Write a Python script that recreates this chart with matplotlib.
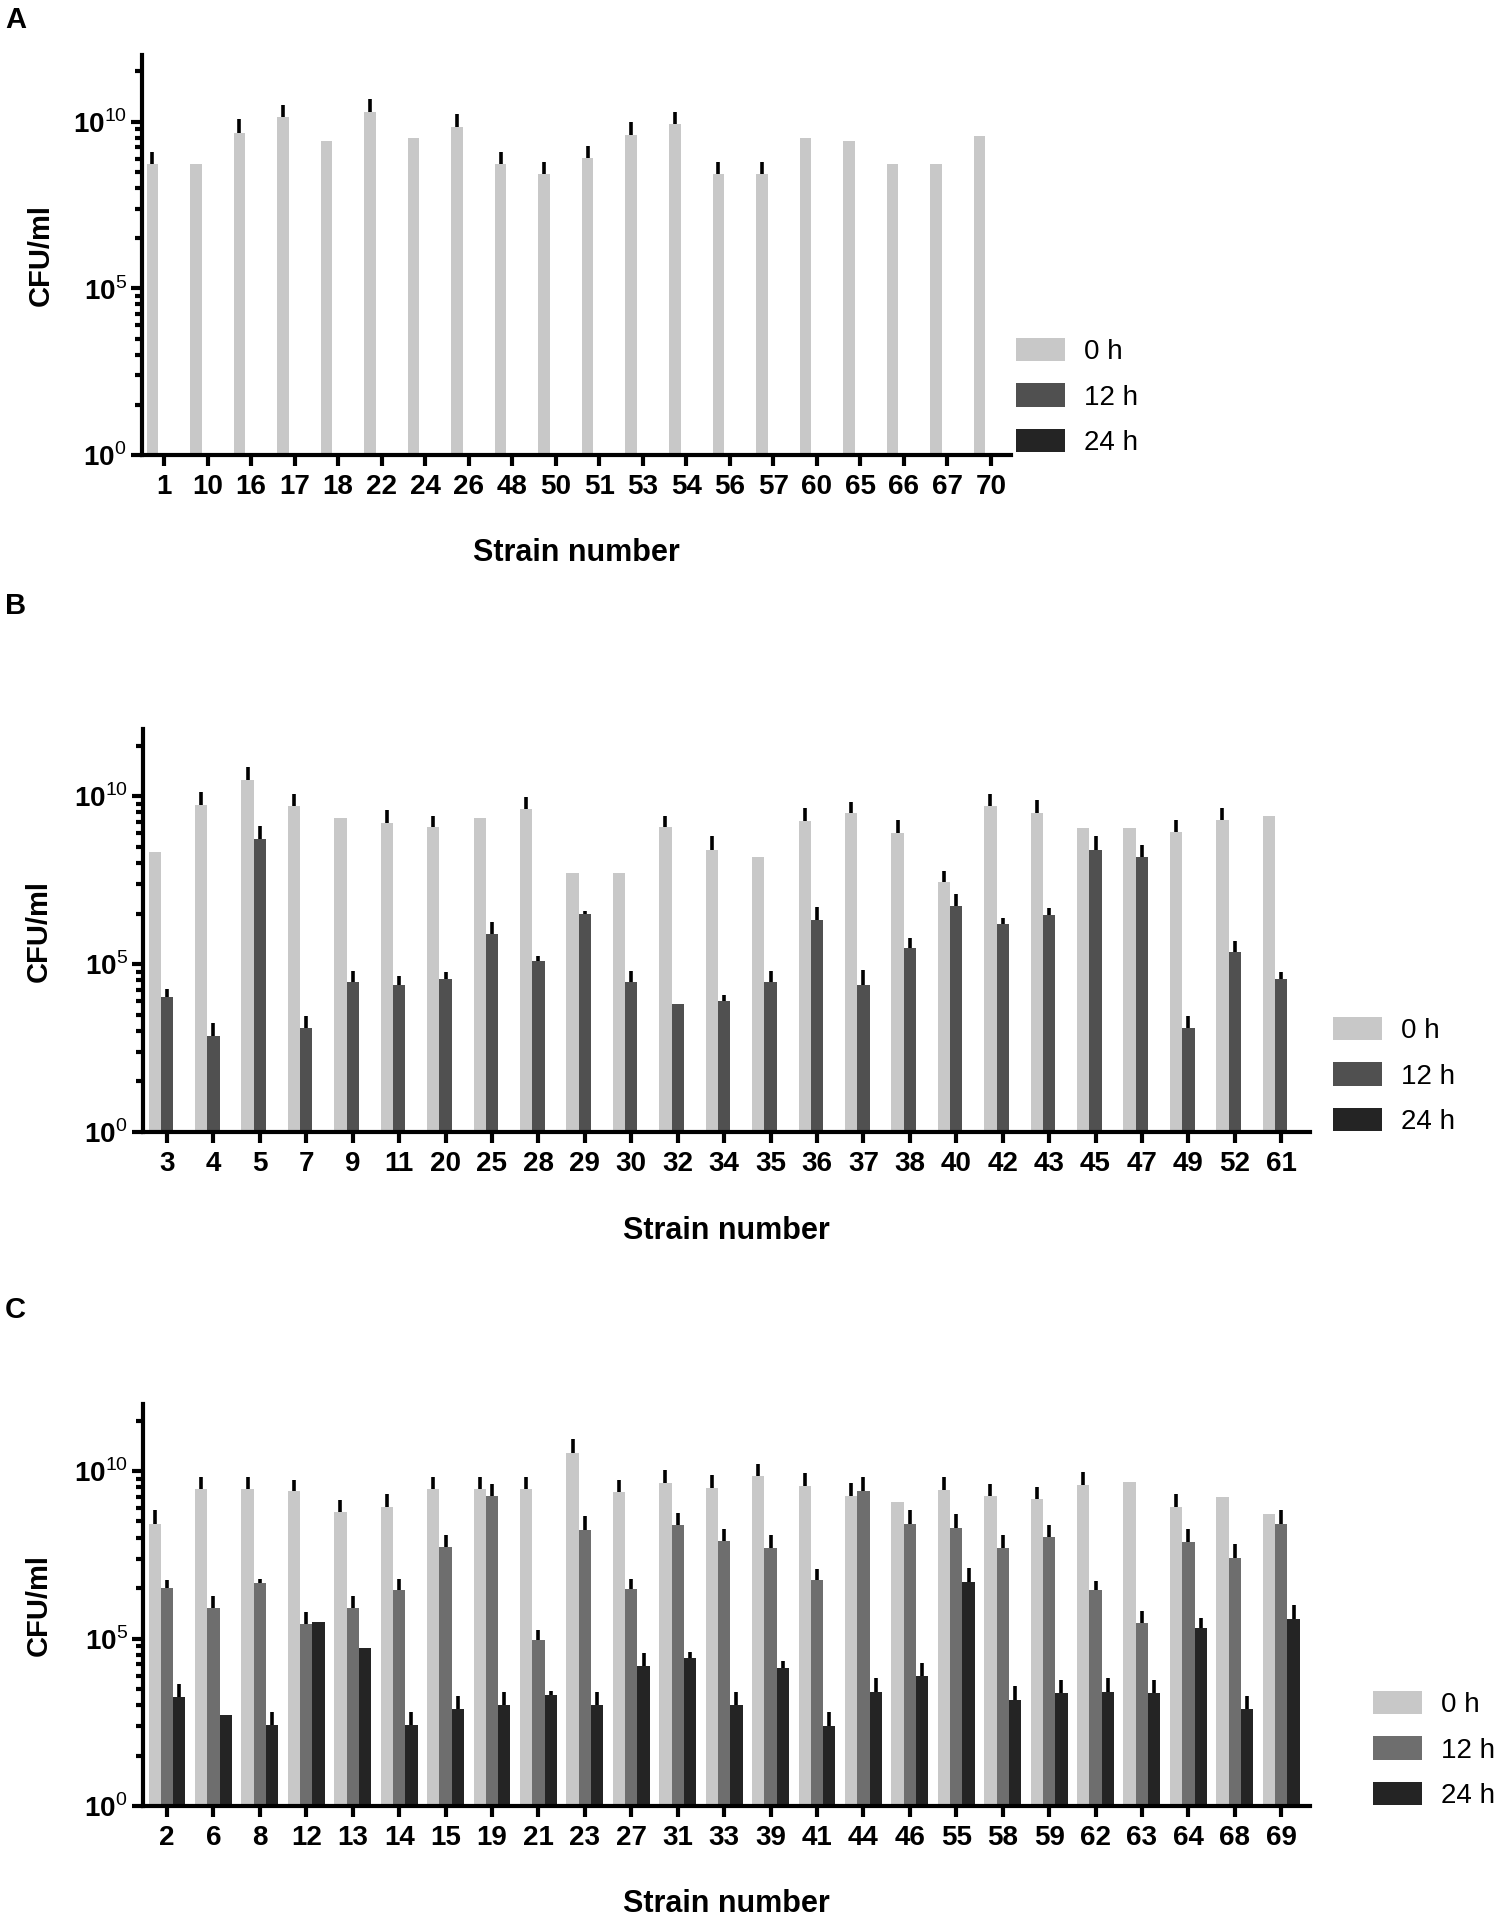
import numpy as np
import matplotlib
matplotlib.use("Agg")
import matplotlib.pyplot as plt
from matplotlib.patches import Patch
from matplotlib.ticker import FixedLocator, NullFormatter

plt.rcParams['font.family'] = ['Liberation Sans', 'DejaVu Sans']
plt.rcParams['mathtext.fontset'] = 'custom'
plt.rcParams['mathtext.bf'] = 'Liberation Sans:bold'
plt.rcParams['mathtext.rm'] = 'Liberation Sans'

nan = np.nan

# values are log10(CFU/ml); *_hi = log10 of the top of the error bar (nan = none)
strains_a = ["1", "10", "16", "17", "18", "22", "24", "26", "48", "50",
             "51", "53", "54", "56", "57", "60", "65", "66", "67", "70"]
a_0h = [8.74, 8.72, 9.67, 10.15, 9.43, 10.30, 9.50, 9.84, 8.74, 8.43,
        8.91, 9.61, 9.94, 8.43, 8.43, 9.50, 9.43, 8.72, 8.72, 9.58]
a_0h_hi = [9.08, nan, 10.07, 10.49, nan, 10.69, nan, 10.23, 9.08, 8.78,
           9.27, 9.98, 10.29, 8.78, 8.78, nan, nan, nan, nan, nan]

strains_b = ["3", "4", "5", "7", "9", "11", "20", "25", "28", "29", "30", "32", "34",
             "35", "36", "37", "38", "40", "42", "43", "45", "47", "49", "52", "61"]
b_0h = [8.34, 9.74, 10.48, 9.71, 9.36, 9.20, 9.07, 9.36, 9.62, 7.70, 7.70, 9.07, 8.41,
        8.18, 9.27, 9.49, 8.91, 7.43, 9.71, 9.51, 9.06, 9.06, 8.93, 9.28, 9.40]
b_0h_hi = [nan, 10.11, 10.88, 10.07, nan, 9.59, 9.41, nan, 9.98, nan, nan, 9.41, 8.80,
           nan, 9.66, 9.82, 9.28, 7.78, 10.07, 9.88, nan, nan, 9.28, 9.66, nan]
b_12h = [4.02, 2.87, 8.71, 3.11, 4.48, 4.37, 4.57, 5.91, 5.09, 6.50, 4.46, 3.80, 3.89,
         4.46, 6.31, 4.39, 5.48, 6.73, 6.20, 6.45, 8.41, 8.18, 3.11, 5.35, 4.57]
b_12h_hi = [4.26, 3.25, 9.11, 3.46, 4.78, 4.64, 4.75, 6.25, 5.23, 6.59, 4.78, nan, 4.07,
            4.78, 6.71, 4.82, 5.78, 7.10, 6.38, 6.68, 8.81, 8.56, 3.46, 5.68, 4.75]

strains_c = ["2", "6", "8", "12", "13", "14", "15", "19", "21", "23", "27", "31", "33",
             "39", "41", "44", "46", "55", "58", "59", "62", "63", "64", "68", "69"]
c_0h = [8.42, 9.47, 9.47, 9.39, 8.77, 8.93, 9.47, 9.47, 9.47, 10.55, 9.36, 9.63, 9.49,
        9.84, 9.54, 9.25, 9.07, 9.43, 9.25, 9.17, 9.59, 9.68, 8.93, 9.22, 8.72]
c_0h_hi = [8.83, 9.83, 9.83, 9.74, 9.13, 9.31, 9.83, 9.83, 9.83, 10.96, 9.74, 10.02, 9.89,
           10.21, 9.94, 9.63, nan, 9.81, 9.62, 9.52, 9.98, nan, 9.31, nan, nan]
c_12h = [6.51, 5.91, 6.66, 5.44, 5.91, 6.44, 7.73, 9.25, 4.95, 8.24, 6.47, 8.38, 7.90,
         7.71, 6.74, 9.41, 8.42, 8.29, 7.71, 8.03, 6.44, 5.46, 7.89, 7.40, 8.42]
c_12h_hi = [6.76, 6.28, 6.79, 5.80, 6.28, 6.79, 8.08, 9.62, 5.26, 8.66, 6.79, 8.76, 8.26,
            8.08, 7.08, 9.82, 8.83, 8.72, 8.08, 8.39, 6.73, 5.81, 8.26, 7.81, 8.83]
c_24h = [3.25, 2.72, 2.41, 5.50, 4.73, 2.41, 2.89, 3.01, 3.30, 3.01, 4.18, 4.41, 3.01,
         4.11, 2.40, 3.39, 3.87, 6.69, 3.17, 3.37, 3.39, 3.37, 5.30, 2.89, 5.57]
c_24h_hi = [3.65, nan, 2.82, nan, nan, 2.82, 3.27, 3.41, 3.44, 3.41, 4.58, 4.61, 3.41,
            4.34, 2.82, 3.81, 4.28, 7.11, 3.57, 3.75, 3.81, 3.75, 5.62, 3.27, 5.99]

series_labels = ["0 h", "12 h", "24 h"]
grey_0h = "#c8c8c8"
grey_12h_dark = "#505050"
grey_12h_mid = "#6e6e6e"
grey_24h = "#242424"

W, H = 1509, 1920
fig = plt.figure(figsize=(W / 100, H / 100), dpi=100)


def px_axes(left, right, top, bottom):
    return fig.add_axes([left / W, 1 - bottom / H, (right - left) / W, (bottom - top) / H])


def draw_panel(ax, strains, series, colors, xlim, label_x):
    x = np.arange(len(strains))
    w = 0.265
    ax.set_yscale('log')
    for i, s in enumerate(series):
        if s is None:
            continue
        vals, hi = np.array(s[0]), np.array(s[1])
        pos = x + (i - 1) * w
        ax.bar(pos, 10 ** vals, width=w, color=colors[i], linewidth=0, zorder=2)
        m = ~np.isnan(hi)
        ax.vlines(pos[m], 10 ** vals[m], 10 ** hi[m], color='black', lw=2.6, zorder=3)

    ax.set_ylim(1, 1e12)
    ax.set_xlim(*xlim)
    ax.set_xticks(x, strains, fontsize=20, fontweight='bold')
    ax.set_yticks([1, 1e5, 1e10], [r'$\mathbf{10}^{\mathrm{0}}$', r'$\mathbf{10}^{\mathrm{5}}$',
                                   r'$\mathbf{10}^{\mathrm{10}}$'], fontsize=20)
    minors = [10 ** (b + 5 * np.log10(k)) for b in (0, 5, 10) for k in range(2, 10)
              if b + 5 * np.log10(k) < 12]
    ax.yaxis.set_minor_locator(FixedLocator(minors))
    ax.yaxis.set_minor_formatter(NullFormatter())
    ax.tick_params(axis='x', length=8, width=3, pad=6)
    ax.tick_params(axis='y', which='major', length=8, width=3, pad=3)
    ax.tick_params(axis='y', which='minor', length=5, width=3)
    for side in ('top', 'right'):
        ax.spines[side].set_visible(False)
    for side in ('left', 'bottom'):
        ax.spines[side].set_linewidth(3)
    ax.set_xlabel("Strain number", fontsize=22, fontweight='bold', va='center')
    ax.xaxis.set_label_coords(0.5, -0.245)
    ax.set_ylabel("CFU/ml", fontsize=21, fontweight='bold', va='center')
    ax.yaxis.set_label_coords(label_x, 0.5)


def add_legend(ax, colors, left, mid):
    handles = [Patch(facecolor=c, edgecolor='none') for c in colors]
    ax.legend(handles, series_labels, loc='center left', bbox_to_anchor=(left / W, 1 - mid / H),
              bbox_transform=fig.transFigure, frameon=False, fontsize=20, handlelength=1.75,
              handleheight=0.9, handletextpad=0.7, labelspacing=0.65, borderpad=0, borderaxespad=0)


ax_a = px_axes(142, 1011, 55, 455)
draw_panel(ax_a, strains_a, [(a_0h, a_0h_hi), None, None],
           [grey_0h, grey_12h_dark, grey_24h], (-0.505, 19.46), -0.117)
add_legend(ax_a, [grey_0h, grey_12h_dark, grey_24h], 1016, 397)

ax_b = px_axes(143, 1310, 729, 1132)
draw_panel(ax_b, strains_b, [(b_0h, b_0h_hi), (b_12h, b_12h_hi), None],
           [grey_0h, grey_12h_dark, grey_24h], (-0.517, 24.62), -0.089)
add_legend(ax_b, [grey_0h, grey_12h_dark, grey_24h], 1333, 1076)

ax_c = px_axes(143, 1310, 1404, 1806)
draw_panel(ax_c, strains_c, [(c_0h, c_0h_hi), (c_12h, c_12h_hi), (c_24h, c_24h_hi)],
           [grey_0h, grey_12h_mid, grey_24h], (-0.517, 24.62), -0.089)
add_legend(ax_c, [grey_0h, grey_12h_mid, grey_24h], 1373, 1750)

for letter, y in [("A", 20), ("B", 606), ("C", 1310)]:
    fig.text(5 / W, 1 - y / H, letter, fontsize=21, fontweight='bold', ha='left', va='center')

fig.savefig("out.png", dpi=100)
